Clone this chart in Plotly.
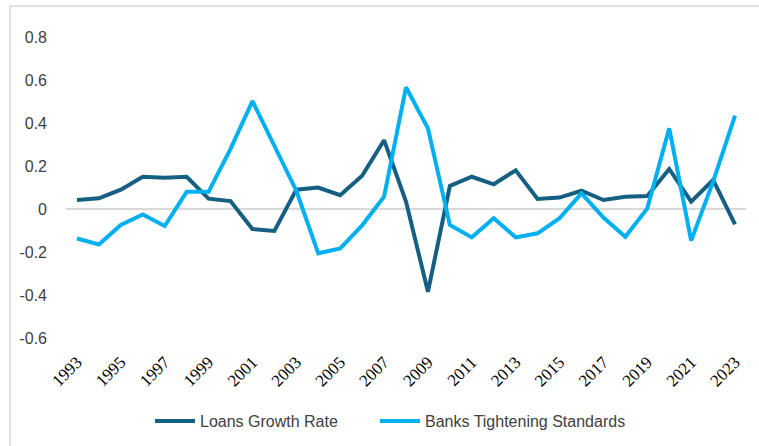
import plotly.graph_objects as go

years = list(range(1993, 2024))
loans_growth = [0.042, 0.05, 0.09, 0.15, 0.145, 0.15, 0.048, 0.037, -0.093, -0.102,
                0.09, 0.10, 0.064, 0.155, 0.32, 0.035, -0.385, 0.107, 0.15, 0.115,
                0.18, 0.047, 0.053, 0.085, 0.042, 0.057, 0.06, 0.186, 0.034, 0.135, -0.071]
banks_tightening = [-0.137, -0.165, -0.074, -0.025, -0.079, 0.08, 0.08, 0.28, 0.502, 0.29,
                    0.085, -0.206, -0.183, -0.076, 0.057, 0.566, 0.375, -0.074, -0.132, -0.043,
                    -0.132, -0.113, -0.043, 0.073, -0.04, -0.129, 0.003, 0.375, -0.147, 0.127, 0.434]
tick_years = list(range(1993, 2024, 2))
y_ticks = [-0.6, -0.4, -0.2, 0, 0.2, 0.4, 0.6, 0.8]
y_labels = ["-0.6", "-0.4", "-0.2", "0", "0.2", "0.4", "0.6", "0.8"]

W, H = 759, 446
L, R, T, B = 66, 13, 37, 108
pw, ph = W - L - R, H - T - B

fig = go.Figure()
fig.add_trace(go.Scatter(x=years, y=loans_growth, mode="lines", name="Loans Growth Rate",
                         line=dict(color="#156082", width=4), legend="legend"))
fig.add_trace(go.Scatter(x=years, y=banks_tightening, mode="lines", name="Banks Tightening Standards",
                         line=dict(color="#00B0F0", width=4), legend="legend2"))

def px_x(p):
    return (p - L) / pw

def px_y(p):
    return (H - B - p) / ph

fig.add_shape(type="rect", xref="paper", yref="paper",
              x0=px_x(10), x1=px_x(762), y0=px_y(450), y1=px_y(6),
              line=dict(color="#d9d9d9", width=1.5), layer="below")

legend_font = dict(family="Liberation Sans", size=16, color="#404040")

fig.update_layout(
    width=W, height=H,
    margin=dict(l=L, r=R, t=T, b=B, autoexpand=False),
    paper_bgcolor="white", plot_bgcolor="white",
    showlegend=True,
    legend=dict(orientation="h", x=px_x(150), xanchor="left", y=px_y(421), yanchor="middle",
                font=legend_font, itemwidth=40),
    legend2=dict(orientation="h", x=px_x(375), xanchor="left", y=px_y(421), yanchor="middle",
                 font=legend_font, itemwidth=40),
    xaxis=dict(range=[1992.5, 2023.5], tickvals=tick_years, ticktext=[str(y) for y in tick_years],
               tickangle=-45, showgrid=False, zeroline=False, showline=False, ticks="",
               ticklabelstandoff=10,
               tickfont=dict(family="Liberation Serif", size=17, color="#000000")),
    yaxis=dict(range=[-0.6, 0.8], tickvals=y_ticks, ticktext=y_labels, showgrid=False,
               zeroline=True, zerolinecolor="#d9d9d9", zerolinewidth=1.5, showline=False,
               ticks="", ticklabelstandoff=18,
               tickfont=dict(family="Liberation Sans", size=16, color="#404040")),
)

fig.write_html("out.html")
